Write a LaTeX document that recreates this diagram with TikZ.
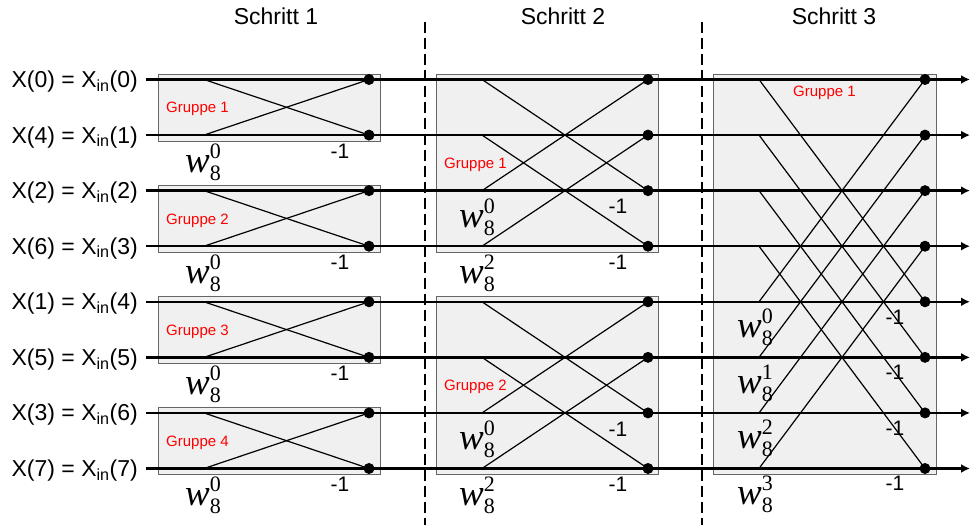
\documentclass[tikz,border=0pt]{standalone}
\usepackage{fontspec}
\setmainfont{Liberation Sans}
\newfontfamily\wfont{Liberation Serif}
\usetikzlibrary{arrows.meta}
\newcommand\twid[1]{{\wfont\fontsize{37}{37}\selectfont\itshape w}\makebox[0pt][l]{\raisebox{14pt}{\wfont\fontsize{22}{22}\selectfont #1}}\raisebox{-8pt}{\wfont\fontsize{22}{22}\selectfont 8}}
\begin{document}
\begin{tikzpicture}[x=1pt,y=-1pt,
 mainline/.style={line width=2.4pt,-{Latex[length=9pt,width=9pt]}},
 bfly/.style={line width=1.2pt},
 grp/.style={draw=black!60,fill=black!6,line width=0.8pt},
 dot/.style={circle,fill=black,inner sep=0pt,minimum size=11pt},
 glabel/.style={text=red,font=\fontsize{15}{15}\selectfont,anchor=base west,inner sep=0pt},
 mlab/.style={font=\fontsize{21}{21}\selectfont,inner sep=0pt},
 wlab/.style={anchor=base west,inner sep=0pt},
 xlab/.style={font=\fontsize{23}{23}\selectfont,anchor=base east,inner sep=0pt},
 head/.style={font=\fontsize{23}{23}\selectfont,anchor=base,inner sep=0pt},
 sep/.style={line width=2.7pt,dash pattern=on 11pt off 5pt}]
\useasboundingbox (0,0) rectangle (971,525);
% coordinates
\foreach \k in {0,...,7} {
  \coordinate (s\k) at (146,79.5+55.57*\k);
  \coordinate (e\k) at (970,79.5+55.57*\k);
  \coordinate (pA\k) at (204,79.5+55.57*\k);
  \coordinate (pB\k) at (482,79.5+55.57*\k);
  \coordinate (pC\k) at (759,79.5+55.57*\k);
  \coordinate (qA\k) at (369,79.5+55.57*\k);
  \coordinate (qB\k) at (648,79.5+55.57*\k);
  \coordinate (qC\k) at (925,79.5+55.57*\k);
}
% boxes
\foreach \t in {0,2,4,6} {
  \pgfmathtruncatemacro\b{\t+1}
  \draw[grp] ([yshift=5.5pt]qA\t -| 158,0) rectangle ([yshift=-6pt]qA\b -| 380,0);
}
\draw[grp] (436,74) rectangle (658,252.2);
\draw[grp] (436,296) rectangle (658,474.5);
\draw[grp] (713,74) rectangle (936,474.5);
% headings
\node[head] (h1) at (276,24) {Schritt 1};
\node[head] (h2) at (563,24) {Schritt 2};
\node[head] (h3) at (834,24) {Schritt 3};
% separators
\coordinate (t1) at (425,22); \coordinate (b1) at (425,525);
\coordinate (t2) at (702,22); \coordinate (b2) at (702,525);
\draw[sep] (t1) -- (b1);
\draw[sep] (t2) -- (b2);
% main lines
\foreach \k in {0,...,7} { \draw[mainline] (s\k) -- (e\k); }
% butterflies
\foreach \t in {0,2,4,6} {
  \pgfmathtruncatemacro\b{\t+1}
  \draw[bfly] (pA\t) -- (qA\b); \draw[bfly] (pA\b) -- (qA\t);
}
\foreach \t in {0,1,4,5} {
  \pgfmathtruncatemacro\b{\t+2}
  \draw[bfly] (pB\t) -- (qB\b); \draw[bfly] (pB\b) -- (qB\t);
}
\foreach \t in {0,...,3} {
  \pgfmathtruncatemacro\b{\t+4}
  \draw[bfly] (pC\t) -- (qC\b); \draw[bfly] (pC\b) -- (qC\t);
}
% dots
\foreach \k in {0,...,7} {
  \node[dot] (dA\k) at (qA\k) {};
  \node[dot] (dB\k) at (qB\k) {};
  \node[dot] (dC\k) at (qC\k) {};
}
% input labels
\foreach \a/\k in {0/0,4/1,2/2,6/3,1/4,5/5,3/6,7/7} {
  \node[xlab] (lab\k) at ([yshift=-8pt]s\k -| 138,0) {X(\a) = X\textsubscript{in}(\k)};
}
% group labels
\node[glabel] (gA1) at (166,112) {Gruppe 1};
\node[glabel] (gA2) at (166,224) {Gruppe 2};
\node[glabel] (gA3) at (166,335) {Gruppe 3};
\node[glabel] (gA4) at (166,446) {Gruppe 4};
\node[glabel] (gB1) at (444,168) {Gruppe 1};
\node[glabel] (gB2) at (444,390) {Gruppe 2};
\node[glabel] (gC1) at (793,96) {Gruppe 1};
% -1 labels
\foreach \k in {1,3,5,7} { \node[mlab] (mA\k) at ([xshift=-29pt,yshift=-16pt]qA\k) {-1}; }
\foreach \k in {2,3,6,7} { \node[mlab] (mB\k) at ([xshift=-30pt,yshift=-16pt]qB\k) {-1}; }
\foreach \k in {4,...,7} { \node[mlab] (mC\k) at ([xshift=-30pt,yshift=-15pt]qC\k) {-1}; }
% twiddle labels
\foreach \k in {1,3,5,7} { \node[wlab] (wA\k) at ([xshift=-19pt,yshift=-37pt]pA\k) {\twid{0}}; }
\foreach \k/\p in {2/0,3/2,6/0,7/2} { \node[wlab] (wB\k) at ([xshift=-23pt,yshift=-37pt]pB\k) {\twid{\p}}; }
\foreach \k/\p in {4/0,5/1,6/2,7/3} { \node[wlab] (wC\k) at ([xshift=-22pt,yshift=-36pt]pC\k) {\twid{\p}}; }
\end{tikzpicture}
\end{document}
